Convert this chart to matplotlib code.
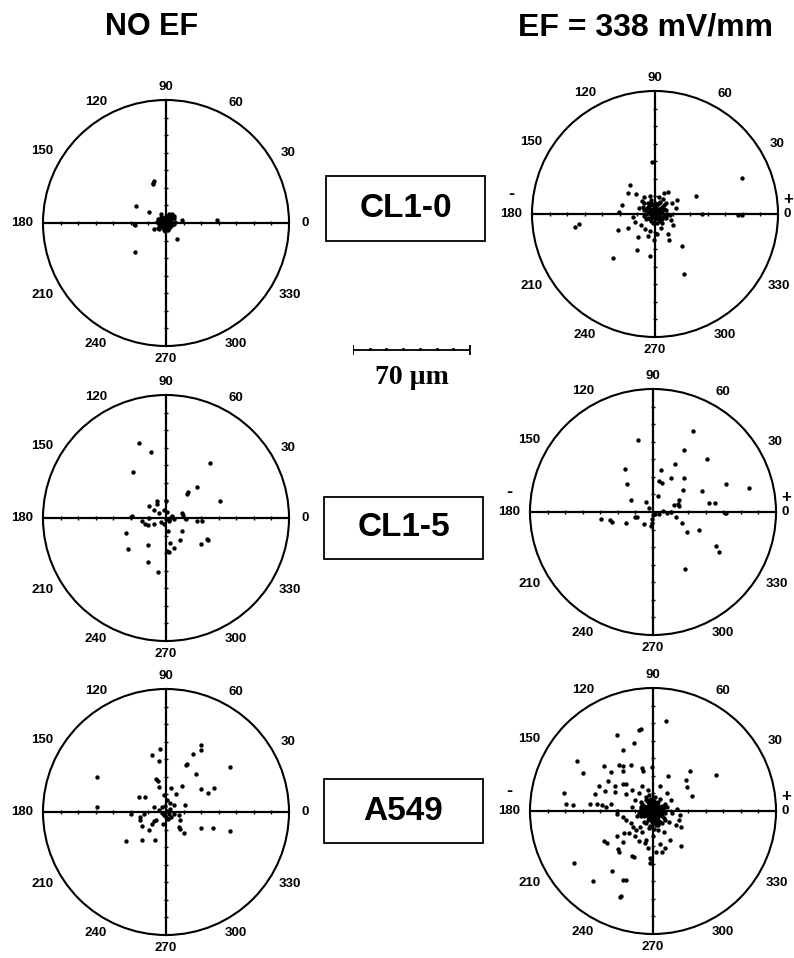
import numpy as np
import matplotlib
matplotlib.use('Agg')
import matplotlib.pyplot as plt
from matplotlib.patches import Circle, Rectangle

'''
Migration end points (um) of cells, no field vs EF = 338 mV/mm
'''
cell_lines = ['CL1-0', 'CL1-5', 'A549']
conditions = ['NO EF', 'EF = 338 mV/mm']
angle_labels = ['0', '30', '60', '90', '120', '150', '180', '210', '240', '270', '300', '330']

cl10_noef = np.array([
    (-7.0, 23.7), (-7.4, 22.4), (-7.2, 23.0), (-16.9, 9.5), (-9.5, 6.3), (-17.8, -1.3),
    (-18.3, -0.6), (-6.6, -3.4), (-17.6, -16.7), (6.3, -8.9), (9.1, 1.5), (29.0, 1.9),
    (-1.0, 0.5), (0.5, -0.5), (-2.0, -1.0), (1.5, 1.0), (-0.5, 2.0), (0.8, -2.0), (-1.5, 1.8),
    (2.5, -0.5), (-2.8, 0.3), (0.0, -3.0), (-0.3, 3.2), (1.8, 2.2), (-2.2, -2.4), (3.0, 1.5),
    (2.2, -2.5), (-3.5, 1.2), (-1.2, -3.8), (0.6, 4.0), (3.6, -1.2), (-4.2, -0.8), (4.3, 2.6),
    (-3.0, 3.6), (1.0, -4.2), (-4.8, 2.2), (5.0, 0.4), (-2.6, 5.0), (3.0, 4.6), (-0.8, -4.8),
    (4.0, 3.8), (-4.4, -2.6), (1.6, 5.2), (-5.3, 0.8), (0.2, 1.0), (-0.6, -1.2), (1.2, 0.0),
    (-1.6, -0.2), (0.3, -1.8), (2.0, 0.4), (-3.2, -1.6), (4.8, -0.6), (0.9, 2.8), (-2.0, 2.8),
    (3.4, 5.3), (4.4, 3.8), (-1.5, -2.0), (2.6, 3.4), (-3.8, -3.6), (1.4, -3.2),
])

cl10_ef = np.array([
    (49.3, 20.3), (23.5, 10.1), (-1.5, 29.8), (-14.1, 16.3), (-10.9, 11.1), (-15.1, 11.7),
    (-18.9, 5.4), (-20.5, 1.0), (12.4, 7.8), (7.5, 12.6), (5.0, 12.0), (12.0, 3.3), (27.0, 0.2),
    (47.4, -0.8), (49.3, -0.4), (-43.4, -5.5), (-45.3, -7.6), (-20.8, -9.0), (-15.3, -8.0),
    (-11.5, -4.8), (-9.4, -13.2), (-10.3, -20.6), (-23.9, -24.9), (-2.9, -23.9), (-4.2, -12.4),
    (-2.7, -9.9), (3.4, -8.0), (7.6, -11.3), (7.8, -14.7), (15.3, -18.0), (16.6, -34.4),
    (6.3, -1.3), (9.2, -3.3), (8.5, -0.5), (-9.0, 3.5), (-7.5, 7.5), (-6.0, 9.6), (-3.0, 10.5),
    (2.0, 9.8), (4.5, 8.5), (9.8, 6.0), (-12.5, -1.5), (-8.0, -6.5), (10.5, -6.5), (-5.5, -8.5),
    (1.0, -11.5), (-0.5, -15.0),
    (-1, 1), (0, 0), (-2, 2), (1, 2), (-3, 0), (2, 0), (0, 3), (-1, -1), (1, -2), (-3, 3),
    (3, 3), (-4, 1), (4, 1), (-2, -2), (2, -3), (0, -3), (-5, 3), (5, -1), (-1, 5), (1, 5),
    (-4, -2), (3, -4), (-3, 5), (4, 4), (-5, 0), (6, 2), (0, 6), (-2, -4), (2, 6), (-6, 2),
    (5, 5), (-4, 4), (-1, -5), (3, -1), (-6, -1), (6, -2), (1, -5), (-3, -3), (4, -3), (-2, 6),
    (2, 3), (-1, 3), (1, 1), (-2, 0), (0, -1), (3, 1), (-4, 6), (5, 3), (-5, -3), (4, -5),
    (-3, 1), (2, -1), (0, 4), (-1, 2), (-7, 4), (7, 0), (-2, 8), (3, 7), (-6, 6), (6, 6),
])

cl15_noef = np.array([
    (-15.1, 42.9), (-8.6, 37.4), (-18.5, 26.0), (24.8, 31.1), (17.7, 17.9), (12.6, 14.9),
    (12.0, 13.9), (30.5, 9.7), (-5.2, 9.7), (-5.2, 8.2), (-9.5, 6.9), (-7.1, 4.4), (-3.8, 2.9),
    (-1.3, 4.8), (0.0, 9.7), (0.6, 3.4), (3.4, 1.1), (9.2, 2.9), (9.7, 1.5), (11.1, -0.8),
    (17.7, -1.7), (20.6, -1.7), (-19.1, 1.1), (-19.8, 0.6), (-13.4, -1.7), (-11.8, -3.2),
    (-10.5, -4.2), (-9.9, 0.0), (-7.1, -3.2), (-2.9, -2.3), (-1.3, -3.2), (1.5, -1.7),
    (2.9, 0.6), (4.4, -0.4), (1.1, -7.6), (9.2, -7.6), (-22.9, -8.4), (-21.9, -17.6),
    (-10.3, -15.3), (2.5, -14.3), (4.4, -17.2), (8.2, -12.8), (0.6, -18.5), (1.9, -19.1),
    (19.7, -14.7), (23.5, -11.8), (23.9, -12.8), (-10.3, -25.2), (-4.6, -30.9), (0.0, -0.8),
    (1.5, -1.0),
])

cl15_ef = np.array([
    (22.9, 46.0), (-8.4, 40.9), (17.8, 35.3), (30.8, 30.0), (12.8, 27.2), (4.7, 23.8),
    (-15.9, 24.4), (10.1, 19.1), (17.8, 19.1), (3.6, 17.4), (5.1, 16.5), (-15.0, 15.9),
    (41.7, 15.9), (54.4, 13.7), (16.9, 12.8), (28.0, 11.8), (2.8, 9.0), (-12.4, 6.9),
    (-3.9, 5.6), (14.6, 6.6), (14.1, 4.7), (15.0, 3.2), (12.2, 3.8), (31.9, 5.1), (35.3, 5.1),
    (-2.4, 2.3), (5.6, 0.6), (7.9, -0.6), (10.1, 0.0), (1.3, -0.9), (3.2, -1.3), (41.7, -0.4),
    (40.7, -0.6), (12.9, -2.8), (16.5, -6.0), (19.1, -11.3), (26.1, -10.3), (36.0, -19.1),
    (37.5, -22.9), (18.2, -32.3), (-29.6, -4.1), (-24.6, -4.7), (-23.5, -5.6), (-15.4, -6.0),
    (-10.5, -2.8), (-9.0, -2.8), (-4.9, -6.9), (-0.9, -7.9), (0.0, -1.5), (-0.5, -4.0),
    (-0.8, -6.0),
])

a549_noef = np.array([
    (20.2, 38.2), (19.7, 35.3), (15.5, 32.8), (-3.6, 35.7), (-8.0, 32.4), (-4.2, 29.2),
    (12.0, 27.1), (11.6, 26.7), (36.5, 25.8), (-39.5, 20.0), (16.8, 21.4), (-5.9, 18.7),
    (-4.8, 17.7), (-4.2, 14.3), (9.2, 14.9), (3.1, 13.4), (19.7, 13.0), (27.3, 13.9),
    (23.9, 10.9), (5.7, 10.5), (-1.3, 9.5), (-15.1, 8.6), (-11.8, 8.6), (-39.5, 2.9),
    (0.6, 6.7), (2.5, 5.2), (4.4, 3.8), (-2.3, 2.9), (-7.1, 2.9), (-4.2, 1.3), (10.7, 4.2),
    (-20.0, -1.0), (-14.7, -2.9), (-12.4, -1.0), (-14.7, -4.8), (-13.7, -8.2), (-9.4, -10.1),
    (-8.0, -6.7), (-7.1, -5.2), (-5.5, -4.4), (-1.9, -6.7), (0.0, -2.9), (1.5, -1.0),
    (4.4, -1.0), (7.3, -1.9), (8.2, -4.4), (7.3, -8.6), (8.2, -9.9), (10.1, -12.0),
    (19.7, -9.2), (26.9, -9.0), (36.5, -10.9), (-22.9, -16.6), (-13.7, -16.2), (-6.1, -15.8),
    (0.5, 0.5), (-1.0, -1.5), (2.0, 1.5), (-2.5, -0.5), (3.0, -3.0), (-0.5, 3.5), (1.0, -4.0),
])

a549_ef = np.array([
    (7.2, 51.2), (-20.7, 43.3), (-7.9, 46.0), (-7.0, 46.5), (-10.9, 38.6), (-17.3, 34.7),
    (-43.5, 28.2), (-40.1, 21.7), (-27.7, 25.8), (-19.2, 26.2), (-17.0, 25.8), (-12.8, 26.4),
    (-17.0, 23.0), (-24.1, 22.0), (-6.0, 24.5), (-5.6, 23.0), (-0.4, 24.9), (35.8, 20.5),
    (21.1, 22.6), (8.5, 20.2), (18.8, 17.9), (19.2, 13.6), (22.0, 8.5), (-50.8, 10.2),
    (-49.3, 4.1), (-45.8, 3.6), (-33.0, 9.8), (-30.7, 14.5), (-27.3, 11.1), (-25.4, 17.3),
    (-21.7, 14.1), (-21.7, 10.7), (-17.0, 15.4), (-15.6, 15.1), (-15.1, 9.8), (-32.0, 3.8),
    (-29.2, 3.6), (-44.8, -29.4), (-34.3, -40.1), (-23.5, -34.1), (-17.0, -39.2),
    (-15.6, -39.5), (-18.8, -49.0), (-18.3, -48.2), (-11.7, -25.6), (-10.9, -26.4),
    (-1.9, -26.9), (-1.5, -29.8), (-0.9, -27.5), (-27.7, -16.9), (-26.4, -18.1),
    (-19.8, -21.7), (-19.4, -23.2), (-20.7, -14.3), (-17.3, -17.5), (-16.4, -12.4),
    (-13.6, -12.8), (-4.7, -18.1), (-4.1, -16.6), (3.8, -18.5), (1.9, -23.2), (5.3, -23.2),
    (7.0, -20.9), (9.4, -16.6), (16.0, -20.0), (15.8, -9.0), (13.2, -8.1), (14.7, -5.3),
    (13.7, 1.3), (15.1, -2.4), (-12.2, 2.3), (-17.0, -3.4), (-15.1, -5.3), (-11.3, -9.0),
    (-9.4, -10.9), (-20.7, -1.5), (-20.7, 0.0),
    (-10, 6), (-8, 10), (-12, 12), (-6, 14), (-3, 12), (4, 14), (8, 10), (10, 6), (11, -1),
    (9, -6), (6, -12), (0, -14), (-6, -12), (-9, -3), (-7, 2), (-24, 4), (-36, 4), (-27, 2.5),
    (-10.5, -14.5), (-8.0, -17.0), (-12.5, -7.0), (-7.5, -9.0), (3.0, -11.0), (-3.0, -21.0),
    (0, 0), (1, 1), (-1, 1), (1, -1), (-1, -1), (2, 0), (-2, 0), (0, 2), (0, -2), (2, 2),
    (-2, 2), (2, -2), (-2, -2), (3, 1), (-3, 1), (1, 3), (1, -3), (-3, -1), (3, -1), (-1, 3),
    (-1, -3), (4, 0), (-4, 0), (0, 4), (0, -4), (3, 3), (-3, 3), (3, -3), (-3, -3), (4, 2),
    (-4, 2), (2, 4), (-2, 4), (4, -2), (-4, -2), (2, -4), (-2, -4), (5, 1), (-5, 1), (1, 5),
    (-1, 5), (5, -1), (-5, -1), (1, -5), (-1, -5), (5, 3), (-5, 3), (3, 5), (-3, 5), (5, -3),
    (-5, -3), (3, -5), (-3, -5), (6, 0), (-6, 0), (0, 6), (0, -6), (6, -4), (-6, 4), (4, -6),
    (-4, 6), (6, 2), (-6, -2), (2, -6), (-2, 6), (7, -1), (-7, 1), (1, -7), (-1, 7),
    (0.5, -0.5), (-0.5, 0.5), (1.5, -1.5), (-1.5, -0.5), (2.5, -2.5), (-2.5, 1.5), (3.5, -0.5),
    (-3.5, -2.5), (0.5, -3.5), (-0.5, -6.5), (1.5, -8), (-1.5, -8.5), (0.5, -10), (-2, -9.5),
    (3, -8), (-4, -7), (5, -7), (-5, -6), (7, -5), (-7, -3), (8, 2), (-8, -1), (7, 4), (-7, 5),
    (4, 7), (-4, 8), (1, 8), (-2, 9),
])

panels = [[cl10_noef, cl10_ef], [cl15_noef, cl15_ef], [a549_noef, a549_ef]]

# layout in pixels of the 794x958 picture
W, H = 794, 958
RMAX = 70          # um, outer circle
R_PX = 123         # circle radius in px
HALF = 160         # half size of each axes in px
lim = RMAX * HALF / R_PX
centers = [[(166, 223), (655, 214)], [(166, 518), (653, 512)], [(166, 812), (653, 811)]]
boxes = [(326, 176, 485, 241), (324, 497, 483, 559), (324, 779, 483, 843)]

fig = plt.figure(figsize=(W / 100, H / 100), dpi=100)
sans = ['Liberation Sans', 'DejaVu Sans']


def fx(x):
    return x / W


def fy(y):
    return 1 - y / H


for i in range(3):
    for j in range(2):
        cx, cy = centers[i][j]
        ax = fig.add_axes([fx(cx - HALF), fy(cy + HALF), 2 * HALF / W, 2 * HALF / H])
        ax.set_xlim(-lim, lim)
        ax.set_ylim(-lim, lim)
        ax.axis('off')
        ax.patch.set_visible(False)
        ax.add_patch(Circle((0, 0), RMAX, fill=False, lw=1.5, ec='black'))
        ax.plot([-RMAX, RMAX], [0, 0], 'k-', lw=1.6)
        ax.plot([0, 0], [-RMAX, RMAX], 'k-', lw=1.6)
        ticks = [t for t in range(-60, 61, 10) if t != 0]
        ax.plot(ticks, [0] * len(ticks), 'k|', ms=3, mew=1)
        ax.plot([0] * len(ticks), ticks, 'k_', ms=3, mew=1)
        pts = panels[i][j]
        ax.scatter(pts[:, 0], pts[:, 1], s=10, c='black', lw=0)
        for k, lab in enumerate(angle_labels):
            a = np.deg2rad(30 * k)
            r = 77.5 + 4.5 * abs(np.cos(a)) * len(lab) / 3
            if j == 1 and k == 0:
                r = 75.5
            ax.text(r * np.cos(a), r * np.sin(a), lab, ha='center', va='center',
                    fontsize=9.5, fontweight='bold', family=sans, clip_on=False)
        if j == 1:
            ax.text(-82, 6.5, '-', ha='center', va='bottom', fontsize=13,
                    fontweight='bold', family=sans)
            ax.text(75.5, 3.8, '+', ha='center', va='bottom', fontsize=12,
                    fontweight='bold', family=sans)

# column titles
fig.text(fx(152), fy(27), conditions[0], ha='center', va='center', fontsize=22,
         fontweight='bold', family=sans)
fig.text(fx(645), fy(27), conditions[1], ha='center', va='center', fontsize=23,
         fontweight='bold', family=sans)

# cell line boxes
for (x0, y0, x1, y1), name in zip(boxes, cell_lines):
    fig.add_artist(Rectangle((fx(x0), fy(y1)), (x1 - x0) / W, (y1 - y0) / H,
                             transform=fig.transFigure, fill=False, lw=1.3, ec='black'))
    fig.text(fx((x0 + x1) / 2), fy((y0 + y1) / 2), name, ha='center', va='center',
             fontsize=24, fontweight='bold', family=sans)

# scale bar
sb = fig.add_axes([fx(353), fy(356), 117 / W, 12 / H])
sb.set_xlim(0, 70)
sb.set_ylim(-1, 1)
sb.axis('off')
sb.patch.set_visible(False)
sb.plot([0, 70], [0, 0], 'k-', lw=1.3)
sb.plot([0, 70], [0, 0], 'k|', ms=7, mew=1.3)
sb.plot(range(10, 61, 10), [0.15] * 6, 'k.', ms=2.5)
fig.text(fx(412), fy(377), '70 \u00b5m', ha='center', va='center', fontsize=20,
         fontweight='bold', family=['Liberation Serif', 'DejaVu Serif'])

fig.savefig('out.png', dpi=100)
